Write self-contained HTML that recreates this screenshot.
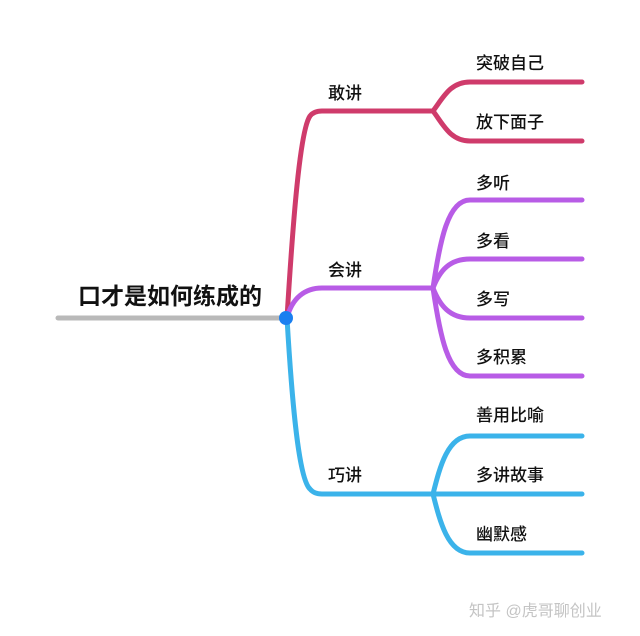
<!DOCTYPE html>
<html><head><meta charset="utf-8"><style>
html,body{margin:0;padding:0;background:#fff;}
svg{display:block;}
text{font-family:"Liberation Sans","Noto Sans CJK SC",sans-serif;fill:#111;}
</style></head><body>
<svg width="640" height="636" viewBox="0 0 640 636" xmlns="http://www.w3.org/2000/svg">
<g fill="none" stroke-linecap="round" stroke-width="5">
<line x1="58" y1="318" x2="286" y2="318" stroke="#b9b9b9"/>
<g stroke="#cf3b6b">
<path d="M287 318 C293 220 300 130 310 116 Q314 111 322 111 L433 111"/>
<path d="M433 111 C443 98 450 82 470 82 L582 82"/>
<path d="M433 111 C443 124 450 141 470 141 L582 141"/>
</g>
<g stroke="#b85ce6">
<path d="M287 318 C292 298 305 288 322 288 L433 288"/>
<path d="M433 288 C440 240 448 200 470 200 L582 200"/>
<path d="M433 288 C440 270 450 259 470 259 L582 259"/>
<path d="M433 288 C440 306 450 318 470 318 L582 318"/>
<path d="M433 288 C440 336 448 376 470 376 L582 376"/>
</g>
<g stroke="#3bb3ea">
<path d="M287 318 C293 420 300 480 310 489 Q314 494 322 494 L433 494"/>
<path d="M433 494 C440 466 448 436 470 436 L582 436"/>
<path d="M433 494 L582 494"/>
<path d="M433 494 C440 522 448 553 470 553 L582 553"/>
</g>
</g>
<circle cx="286" cy="318" r="7" fill="#1a7ff0"/>
<text x="78" y="304" font-size="23" font-weight="600">口才是如何练成的</text>
<g font-size="17" font-weight="500">
<text x="328" y="99">敢讲</text>
<text x="328" y="276">会讲</text>
<text x="328" y="481">巧讲</text>
<text x="476" y="69">突破自己</text>
<text x="476" y="128">放下面子</text>
<text x="476" y="189">多听</text>
<text x="476" y="247">多看</text>
<text x="476" y="305">多写</text>
<text x="476" y="363">多积累</text>
<text x="476" y="421">善用比喻</text>
<text x="476" y="481">多讲故事</text>
<text x="476" y="540">幽默感</text>
</g>
<text x="469" y="616" font-size="16" style="fill:#c4c4c4">知乎 @虎哥聊创业</text>
</svg>
</body></html>
